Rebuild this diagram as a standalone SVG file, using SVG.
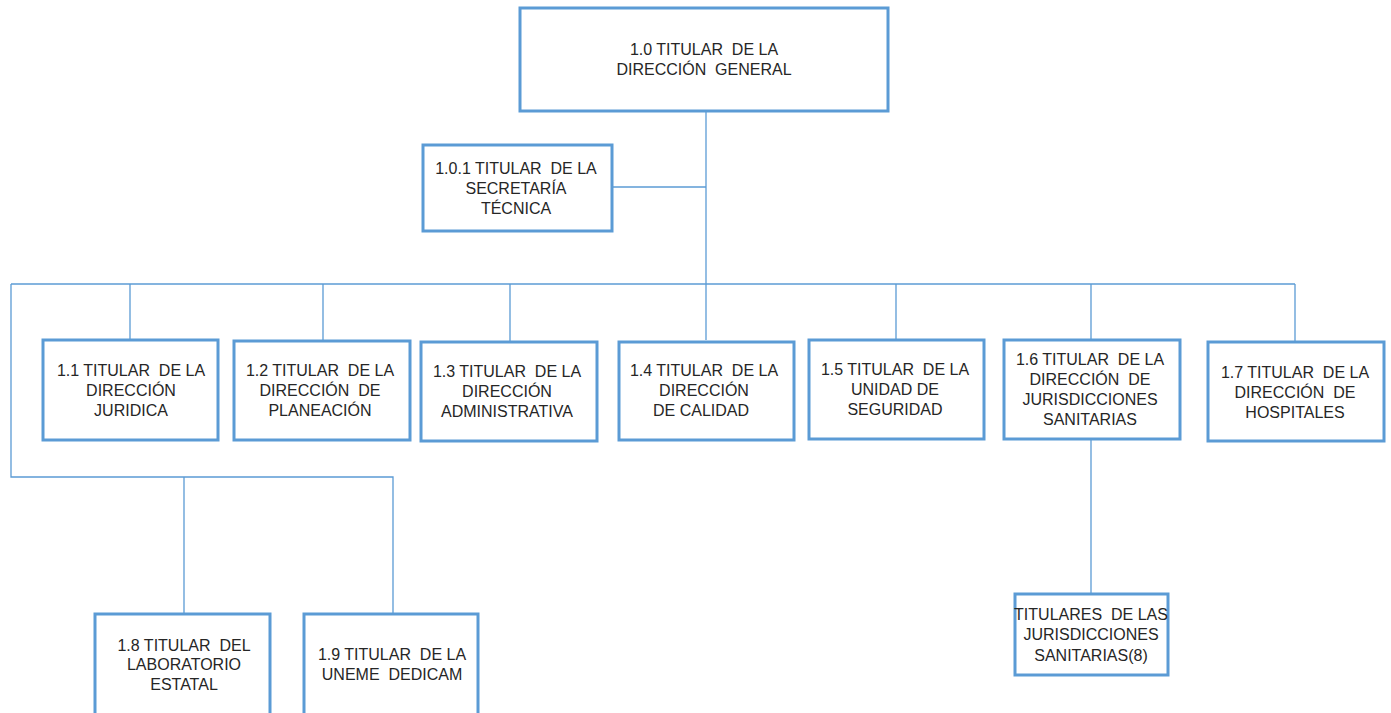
<svg xmlns="http://www.w3.org/2000/svg" width="1391" height="713" viewBox="0 0 1391 713">
<style>
.box{fill:#ffffff;stroke:#5b9bd5;stroke-width:3}
.c{fill:none;stroke:#5b9bd5;stroke-width:1.3}
text{font-family:"Liberation Sans",Arial,sans-serif;font-size:16px;fill:#262626;text-anchor:middle;white-space:pre}
</style>
<rect width="1391" height="713" fill="#ffffff"/>
<g id="connectors">
<path class="c" d="M706 111V340"/>
<path class="c" d="M612 187H706"/>
<path class="c" d="M11 284H1295"/>
<path class="c" d="M130 284V340M323 284V341M510 284V342M896 284V340M1091 284V340M1295 284V342"/>
<path class="c" d="M11 284V477H393V614M184 477V614"/>
<path class="c" d="M1091 439V594"/>
</g>
<g id="n10"><rect class="box" x="520" y="8" width="368" height="103"/>
<text x="704" y="55" xml:space="preserve">1.0 TITULAR  DE LA</text><text x="704" y="75" xml:space="preserve">DIRECCIÓN  GENERAL</text></g>
<g id="n101"><rect class="box" x="423" y="145" width="189" height="86"/>
<text x="516" y="174" xml:space="preserve">1.0.1 TITULAR  DE LA</text><text x="516" y="194">SECRETARÍA</text><text x="516" y="214">TÉCNICA</text></g>
<g id="n11"><rect class="box" x="43" y="340" width="175" height="100"/>
<text x="131" y="376" xml:space="preserve">1.1 TITULAR  DE LA</text><text x="131" y="396">DIRECCIÓN</text><text x="131" y="416">JURIDICA</text></g>
<g id="n12"><rect class="box" x="234" y="341" width="176" height="99"/>
<text x="320" y="376" xml:space="preserve">1.2 TITULAR  DE LA</text><text x="320" y="396" xml:space="preserve">DIRECCIÓN  DE</text><text x="320" y="416">PLANEACIÓN</text></g>
<g id="n13"><rect class="box" x="421" y="342" width="176" height="99"/>
<text x="507" y="377" xml:space="preserve">1.3 TITULAR  DE LA</text><text x="507" y="397">DIRECCIÓN</text><text x="507" y="417">ADMINISTRATIVA</text></g>
<g id="n14"><rect class="box" x="619" y="342" width="175" height="98"/>
<text x="704" y="376" xml:space="preserve">1.4 TITULAR  DE LA</text><text x="704" y="396">DIRECCIÓN</text><text x="701" y="416">DE CALIDAD</text></g>
<g id="n15"><rect class="box" x="809" y="340" width="175" height="99"/>
<text x="895" y="375" xml:space="preserve">1.5 TITULAR  DE LA</text><text x="895" y="395">UNIDAD DE</text><text x="895" y="415">SEGURIDAD</text></g>
<g id="n16"><rect class="box" x="1004" y="340" width="176" height="99"/>
<text x="1090" y="365" xml:space="preserve">1.6 TITULAR  DE LA</text><text x="1090" y="385" xml:space="preserve">DIRECCIÓN  DE</text><text x="1090" y="405">JURISDICCIONES</text><text x="1090" y="425">SANITARIAS</text></g>
<g id="n17"><rect class="box" x="1208" y="342" width="176" height="99"/>
<text x="1295" y="378" xml:space="preserve">1.7 TITULAR  DE LA</text><text x="1295" y="398" xml:space="preserve">DIRECCIÓN  DE</text><text x="1295" y="418">HOSPITALES</text></g>
<g id="n18"><rect class="box" x="95" y="614" width="175" height="104"/>
<text x="184" y="651" xml:space="preserve">1.8 TITULAR  DEL</text><text x="184" y="670">LABORATORIO</text><text x="184" y="690">ESTATAL</text></g>
<g id="n19"><rect class="box" x="304" y="614" width="174" height="104"/>
<text x="392" y="660" xml:space="preserve">1.9 TITULAR  DE LA</text><text x="392" y="680" xml:space="preserve">UNEME  DEDICAM</text></g>
<g id="ntj"><rect class="box" x="1015" y="594" width="153" height="81"/>
<text x="1091" y="620" xml:space="preserve">TITULARES  DE LAS</text><text x="1091" y="640">JURISDICCIONES</text><text x="1091" y="661">SANITARIAS(8)</text></g>
</svg>
